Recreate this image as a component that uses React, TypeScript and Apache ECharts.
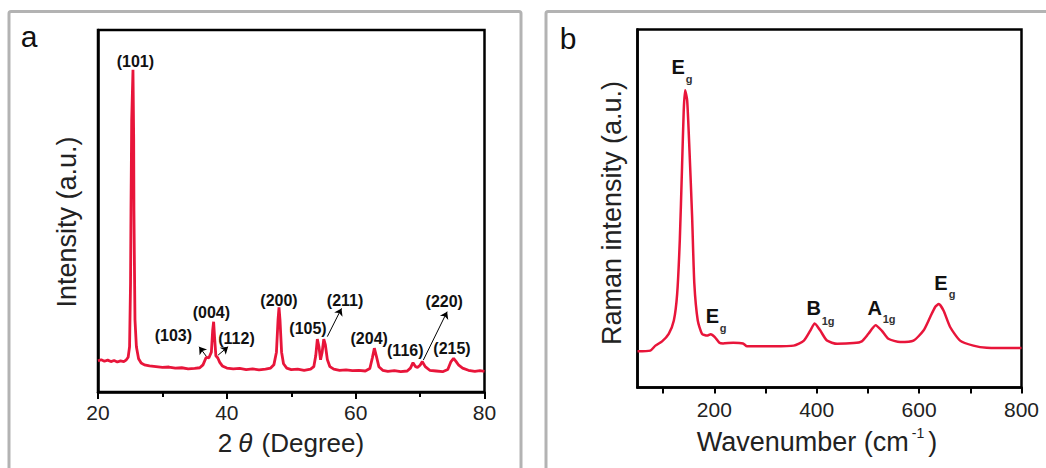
import React, { useEffect, useRef } from "react";
import * as echarts from "echarts";

const FONT = "'Liberation Sans', Arial, sans-serif";

// ---- Panel a: XRD pattern ----
const xrdTheta = [
  20.0, 20.5, 21.0, 21.5, 22.0, 22.5, 23.0, 23.5, 24.0, 24.4, 24.68, 24.9, 25.05, 25.12, 25.23, 25.43,
  25.54, 25.58, 25.65, 25.74, 25.96, 26.3, 26.7, 27.2, 28.0, 29.0, 30.0, 31.0, 32.0, 33.0, 34.0, 35.0,
  35.8, 36.3, 36.8, 37.2, 37.6, 37.8, 37.95, 38.1, 38.3, 38.6, 38.9, 39.3, 40.0, 41.0, 42.0, 43.0, 44.0,
  45.0, 46.0, 46.8, 47.3, 47.7, 47.95, 48.1, 48.25, 48.5, 48.8, 49.3, 50.0, 51.0, 52.0, 53.0, 53.5,
  53.8, 54.05, 54.3, 54.55, 54.8, 55.05, 55.3, 55.6, 56.0, 56.6, 57.5, 58.5, 59.5, 60.5, 61.5, 62.2,
  62.6, 62.9, 63.2, 63.6, 64.2, 65.0, 66.0, 67.0, 68.0, 68.5, 68.9, 69.3, 69.6, 70.0, 70.35, 70.8,
  71.5, 72.5, 73.5, 74.3, 74.8, 75.2, 75.6, 76.0, 76.6, 77.5, 78.5, 79.3, 80.0,
];
const xrdIntensity = [
  8.6, 8.9, 8.5, 8.8, 8.4, 8.7, 8.3, 8.6, 8.4, 8.9, 9.6, 12.5, 30, 50, 75, 89,
  70, 50, 36, 20, 12.5, 9.2, 8.0, 7.5, 7.2, 7.0, 6.8, 6.9, 6.6, 6.7, 6.4, 6.5,
  6.7, 7.5, 9.6, 9.4, 11, 17, 19.4, 15, 10, 9.4, 8.2, 7.2, 6.6, 6.4, 6.5, 6.2, 6.4,
  6.1, 6.3, 6.6, 7.5, 11, 20, 23.4, 20, 11, 7.8, 6.6, 6.2, 6.3, 6.0, 6.3, 7.0,
  10, 14.6, 12.5, 8.9, 11, 14.6, 13, 9, 7, 6.3, 6.0, 6.1, 5.9, 6.0, 5.8, 6.5,
  9.5, 12.1, 10, 7, 6.0, 5.7, 5.9, 5.6, 5.8, 6.6, 8.1, 7.0, 6.8, 7.4, 8.4, 7.0,
  6.0, 5.8, 5.6, 6.2, 8.4, 9.3, 8.4, 7.4, 6.6, 6.0, 5.7, 5.9, 5.7,
];
const xrdLabels = ["(101)", "(103)", "(004)", "(112)", "(200)", "(105)", "(211)", "(204)", "(116)", "(220)", "(215)"];
const xrdLabelX = [25.8, 31.7, 37.6, 41.5, 48.1, 52.6, 58.35, 62.1, 67.7, 73.75, 74.95];
const xrdLabelY = [91.2, 15.7, 22.0, 14.8, 25.4, 17.6, 25.2, 14.8, 11.6, 24.9, 12.1];
// arrows: [fromX, fromY, toX, toY]
const xrdArrows = [
  [36.8, 9.9, 35.7, 12.5],
  [38.65, 10.2, 40.2, 12.5],
  [55.6, 15.3, 57.8, 23.1],
  [70.5, 8.8, 74.2, 22.2],
];

// ---- Panel b: Raman spectrum ----
const ramanShift = [
  50, 75, 85, 98, 111, 121, 127.5, 132.6, 137, 140.3, 143, 147, 151.5, 156.7, 161, 167.7, 176, 186,
  193, 201, 210, 217, 237, 256, 264, 316, 355, 375, 387.5, 396, 407, 420, 440, 472, 488, 501, 515,
  527, 540, 563, 589, 608.6, 621.7, 631.4, 638.5, 647.7, 660.6, 680, 706, 732, 800,
];
const ramanIntensity = [
  10.1, 10.3, 11.7, 12.9, 15.0, 18.7, 26.2, 41.1, 61.6, 77.4, 83.0, 80.2, 66.3, 47.6, 29.0, 18.7, 15.0, 14.5,
  14.9, 14.1, 12.5, 12.3, 12.5, 12.3, 11.5, 11.5, 11.7, 13.1, 15.9, 17.9, 15.9, 13.1, 12.2, 12.4, 12.9, 15.0, 17.4,
  15.9, 13.6, 12.7, 13.1, 15.9, 19.7, 22.5, 23.3, 21.5, 16.9, 13.1, 11.7, 11.1, 11.0,
];
const ramanModes = ["E", "E", "B", "A", "E"];
const ramanModeX = [129.3, 196.5, 394.3, 513.5, 642.4];
const ramanModeY = [89.6, 19.9, 22.1, 22.1, 29.2];
const ramanSubs = ["g", "g", "1g", "1g", "g"];
const ramanSubX = [150.8, 217.2, 422.3, 541.4, 664.5];
const ramanSubY = [86.1, 16.5, 18.6, 19.0, 26.1];
const ramanTicks = [100, 200, 300, 400, 500, 600, 700, 800];
const ramanTickLabels = [200, 400, 600, 800];

const RED = "#e8153a";

export default function App() {
  const ref = useRef<HTMLDivElement>(null);
  useEffect(() => {
    if (!ref.current) return;
    const chart = echarts.init(ref.current, undefined, { renderer: "svg" });
    const labelStyle = (size: number, color: string) => ({
      show: true,
      position: "inside",
      color,
      opacity: 1,
      fontFamily: FONT,
      fontWeight: "bold",
      fontSize: size,
      textBorderWidth: 0,
      formatter: (p: any) => p.data[2],
    });
    const axisLine = { show: true, onZero: false, lineStyle: { color: "#000", width: 2.5 } };
    const option: any = {
      animation: false,
      backgroundColor: "#fff",
      grid: [
        { left: 98, top: 30, width: 386.5, height: 362, show: true, borderColor: "#000", borderWidth: 2.5 },
        { left: 637.5, top: 29.5, width: 384, height: 358, show: true, borderColor: "#000", borderWidth: 2.5 },
      ],
      xAxis: [
        {
          type: "value", gridIndex: 0, min: 20, max: 80, interval: 20,
          axisLine,
          axisTick: { show: true, length: 7, lineStyle: { color: "#000", width: 2 } },
          minorTick: { show: true, splitNumber: 2, length: 5, lineStyle: { color: "#000", width: 2 } },
          axisLabel: { fontSize: 21, color: "#222", margin: 10, fontFamily: FONT },
          splitLine: { show: false },
        },
        {
          type: "value", gridIndex: 1, min: 50, max: 800,
          axisLine,
          axisTick: { show: true, length: 6, customValues: ramanTicks, lineStyle: { color: "#000", width: 2 } },
          axisLabel: { fontSize: 21, color: "#222", margin: 11, fontFamily: FONT, customValues: ramanTickLabels },
          splitLine: { show: false },
        },
      ],
      yAxis: [
        { type: "value", gridIndex: 0, min: 0, max: 100, axisLine, axisTick: { show: false }, axisLabel: { show: false }, splitLine: { show: false } },
        { type: "value", gridIndex: 1, min: 0, max: 100, axisLine, axisTick: { show: false }, axisLabel: { show: false }, splitLine: { show: false } },
      ],
      series: [
        {
          type: "line", xAxisIndex: 0, yAxisIndex: 0, symbol: "none",
          data: xrdTheta.map((t, i) => [t, xrdIntensity[i]]),
          lineStyle: { color: RED, width: 2.8 },
          markLine: {
            silent: true, symbol: ["none", "arrow"], symbolSize: 7,
            label: { show: false },
            lineStyle: { color: "#000", width: 1, type: "solid", opacity: 1 },
            itemStyle: { color: "#000" },
            data: xrdArrows.map((a) => [{ coord: [a[0], a[1]] }, { coord: [a[2], a[3]] }]),
          },
        },
        {
          type: "scatter", xAxisIndex: 0, yAxisIndex: 0, symbolSize: 0,
          itemStyle: { color: "#000" },
          data: xrdLabels.map((s, i) => [xrdLabelX[i], xrdLabelY[i], s]),
          label: labelStyle(16, "#111"),
        },
        {
          type: "line", xAxisIndex: 1, yAxisIndex: 1, symbol: "none", smooth: 0.2,
          data: ramanShift.map((w, i) => [w, ramanIntensity[i]]),
          lineStyle: { color: RED, width: 2.5 },
        },
        {
          type: "scatter", xAxisIndex: 1, yAxisIndex: 1, symbolSize: 0,
          itemStyle: { color: "#000" },
          data: ramanModes.map((s, i) => [ramanModeX[i], ramanModeY[i], s]),
          label: labelStyle(20, "#111"),
        },
        {
          type: "scatter", xAxisIndex: 1, yAxisIndex: 1, symbolSize: 0,
          itemStyle: { color: "#000" },
          data: ramanSubs.map((s, i) => [ramanSubX[i], ramanSubY[i], s]),
          label: labelStyle(11, "#333"),
        },
      ],
      graphic: [
        { type: "rect", shape: { x: 9, y: 11.5, width: 512, height: 480, r: 2 }, style: { fill: "none", stroke: "#b3b3b3", lineWidth: 3 }, silent: true },
        { type: "rect", shape: { x: 546, y: 11.5, width: 520, height: 480, r: 2 }, style: { fill: "none", stroke: "#b3b3b3", lineWidth: 3 }, silent: true },
        { type: "text", x: 29, y: 36, style: { text: "a", fontSize: 30, fontFamily: FONT, fill: "#111", align: "center", verticalAlign: "middle" } },
        { type: "text", x: 568, y: 38, style: { text: "b", fontSize: 30, fontFamily: FONT, fill: "#111", align: "center", verticalAlign: "middle" } },
        {
          type: "text", x: 67, y: 222, rotation: Math.PI / 2,
          style: { text: "Intensity (a.u.)", fontSize: 27, fontFamily: FONT, fill: "#222", align: "center", verticalAlign: "middle" },
        },
        {
          type: "text", x: 612, y: 213, rotation: Math.PI / 2,
          style: { text: "Raman intensity (a.u.)", fontSize: 27, fontFamily: FONT, fill: "#222", align: "center", verticalAlign: "middle" },
        },
        {
          type: "text", x: 291, y: 443,
          style: {
            text: "2{i|θ} (Degree)", fontSize: 26, fontFamily: FONT, fill: "#222", align: "center", verticalAlign: "middle",
            rich: { i: { fontStyle: "italic", fontSize: 26, fontFamily: FONT, fill: "#222", padding: [0, 2, 0, 6] } },
          },
        },
        {
          type: "text", x: 817, y: 442,
          style: {
            text: "Wavenumber (cm{s|-1})", fontSize: 27, fontFamily: FONT, fill: "#222", align: "center", verticalAlign: "middle",
            rich: { s: { fontSize: 14, fontFamily: FONT, fill: "#222", verticalAlign: "top", padding: [0, 4, 18, 3] } },
          },
        },
      ],
    };
    chart.setOption(option);
    return () => chart.dispose();
  }, []);
  return <div ref={ref} style={{ position: "fixed", left: 0, top: 0, width: 1046, height: 468 }} />;
}
